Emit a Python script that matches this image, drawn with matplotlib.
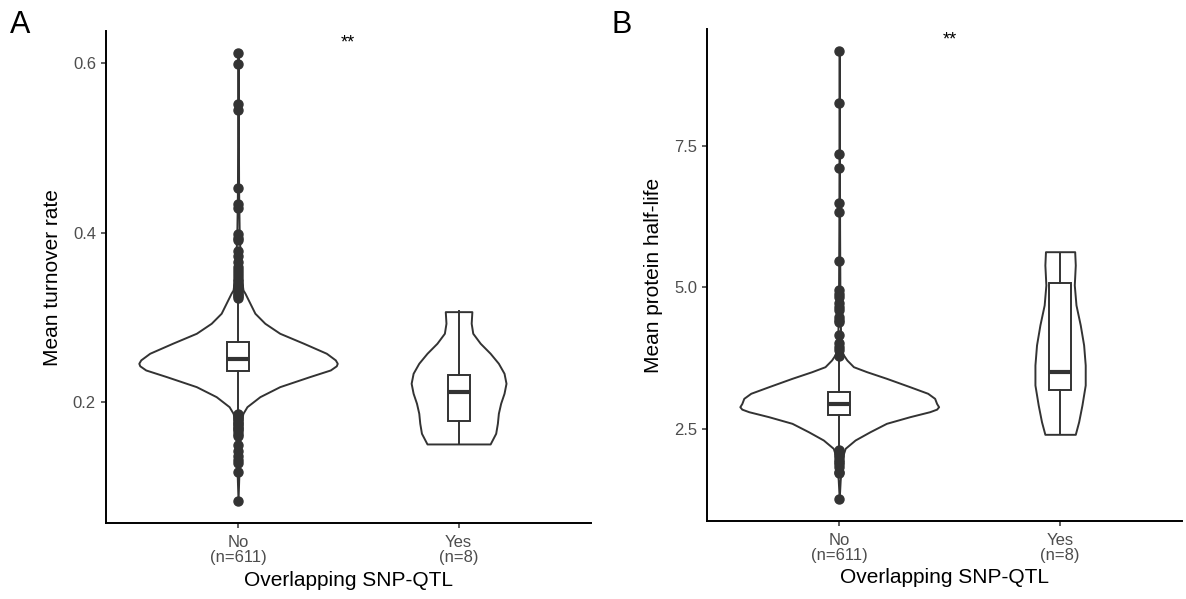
import matplotlib
matplotlib.use("Agg")
import matplotlib.pyplot as plt

plt.rcParams['font.family'] = ['Liberation Sans', 'DejaVu Sans']

groups = ["No", "Yes"]
group_n = [611, 8]
xlabel = "Overlapping SNP-QTL"

# ---- panel A: mean turnover rate ----
a_ylabel = "Mean turnover rate"
a_ticks = [0.2, 0.4, 0.6]
a_ylim = (0.0572, 0.638)
# violin outlines: value, relative half width (1 = widest)
a_no_vy = [0.084, 0.12, 0.16, 0.18, 0.187, 0.1948, 0.2066, 0.2184, 0.2302, 0.2381, 0.243, 0.246,
           0.25, 0.2578, 0.2696, 0.2814, 0.2932, 0.305, 0.3168, 0.3286, 0.3325, 0.35, 0.40, 0.45,
           0.55, 0.6125]
a_no_vw = [0.0, 0.01, 0.02, 0.035, 0.05, 0.09, 0.22, 0.42, 0.72, 0.93, 0.99, 1.0,
           0.98, 0.89, 0.66, 0.42, 0.27, 0.17, 0.12, 0.07, 0.05, 0.03, 0.012, 0.006,
           0.003, 0.0]
a_yes_vy = [0.1508, 0.1634, 0.1752, 0.187, 0.1988, 0.2106, 0.2224, 0.2342, 0.246, 0.2578,
            0.2696, 0.2814, 0.2932, 0.3069]
a_yes_vw = [0.318, 0.374, 0.391, 0.401, 0.424, 0.458, 0.478, 0.458, 0.401, 0.318,
            0.218, 0.143, 0.127, 0.134]
# box stats: whislo, q1, med, q3, whishi
a_no_box = [0.188, 0.2373, 0.2514, 0.2708, 0.321]
a_yes_box = [0.1504, 0.1779, 0.2125, 0.2322, 0.3077]
a_no_out = [0.6125, 0.599, 0.552, 0.545, 0.4525, 0.434, 0.429, 0.398, 0.394, 0.391, 0.378,
            0.372, 0.366, 0.36, 0.356, 0.352, 0.349, 0.346, 0.343, 0.34, 0.337, 0.335, 0.333,
            0.331, 0.329, 0.327, 0.325, 0.323,
            0.186, 0.184, 0.182, 0.18, 0.178, 0.176, 0.174, 0.172, 0.17, 0.168, 0.166, 0.163,
            0.16, 0.149, 0.142, 0.137, 0.132, 0.128, 0.118, 0.084]
a_sig_y = 0.624

# ---- panel B: mean protein half-life ----
b_ylabel = "Mean protein half-life"
b_ticks = [2.5, 5.0, 7.5]
b_ylim = (0.882, 9.552)
b_no_vy = [1.265, 1.6, 1.9, 2.05, 2.159, 2.306, 2.452, 2.6, 2.717, 2.805, 2.85, 2.893, 2.95,
           3.041, 3.13, 3.246, 3.394, 3.511, 3.599, 3.717, 3.806, 3.9, 4.5, 6.0, 9.174]
b_no_vw = [0.0, 0.01, 0.025, 0.04, 0.06, 0.16, 0.31, 0.475, 0.71, 0.91, 0.98, 1.0, 0.98,
           0.96, 0.89, 0.71, 0.475, 0.276, 0.143, 0.077, 0.043, 0.02, 0.008, 0.004, 0.0]
b_yes_vy = [2.406, 2.629, 2.923, 3.276, 3.629, 3.982, 4.335, 4.688, 5.041, 5.393, 5.628]
b_yes_vw = [0.153, 0.187, 0.22, 0.253, 0.253, 0.237, 0.203, 0.16, 0.143, 0.153, 0.147]
b_no_box = [2.15, 2.747, 2.941, 3.147, 3.75]
b_yes_box = [2.406, 3.188, 3.511, 5.081, 5.61]
b_no_out = [9.174, 8.246, 7.352, 7.105, 6.493, 6.323, 5.469, 4.952, 4.88, 4.834, 4.72, 4.66,
            4.6, 4.48, 4.42, 4.39, 4.16, 4.01, 3.95, 3.9, 3.78,
            2.13, 2.08, 2.04, 2.0, 1.96, 1.92, 1.88, 1.835, 1.747, 1.72, 1.265]
b_sig_y = 9.36

dark = "#333333"
W, H = 1186, 599
fig = plt.figure(figsize=(W / 100, H / 100), dpi=100)


def panel(rect, ylabel, ticks, ylim, violins, boxes, outliers, sig_y, xmax):
    ax = fig.add_axes(rect)
    pos = [1, 2]
    for p, (vy, vw) in zip(pos, violins):
        half = [w * 0.45 for w in vw]
        ax.fill_betweenx(vy, [p - h for h in half], [p + h for h in half],
                         facecolor="white", edgecolor=dark, lw=1.4, zorder=2)
    stats = []
    for b, fl in zip(boxes, [outliers, []]):
        stats.append(dict(whislo=b[0], q1=b[1], med=b[2], q3=b[3], whishi=b[4], fliers=fl))
    ax.bxp(stats, positions=pos, widths=0.1, showcaps=False, patch_artist=True,
           boxprops=dict(facecolor="white", edgecolor=dark, lw=1.4),
           whiskerprops=dict(color=dark, lw=1.4),
           medianprops=dict(color=dark, lw=3),
           flierprops=dict(marker="o", markerfacecolor=dark, markeredgecolor=dark,
                           markersize=6.5),
           zorder=3)
    ax.text(1.5, sig_y, "**", ha="center", va="center", fontsize=13, color="black")
    ax.set_xlim(0.4, xmax)
    ax.set_ylim(*ylim)
    ax.set_yticks(ticks)
    ax.set_yticklabels([f"{t:.1f}" for t in ticks])
    ax.set_xticks(pos)
    ax.set_xticklabels([f"{g}\n(n={n})" for g, n in zip(groups, group_n)], linespacing=1.0)
    ax.tick_params(axis="both", labelsize=12, labelcolor="#4D4D4D", color=dark,
                   length=3.5, width=1.1)
    ax.tick_params(axis="x", pad=5)
    ax.set_xlabel(xlabel, fontsize=15, labelpad=4)
    ax.set_ylabel(ylabel, fontsize=15, labelpad=8)
    for s in ["top", "right"]:
        ax.spines[s].set_visible(False)
    for s in ["left", "bottom"]:
        ax.spines[s].set_linewidth(1.4)
        ax.spines[s].set_color("black")
    return ax


panel([105.7 / W, 1 - 523.3 / H, 485.2 / W, 492.3 / H], a_ylabel, a_ticks, a_ylim,
      [(a_no_vy, a_no_vw), (a_yes_vy, a_yes_vw)], [a_no_box, a_yes_box], a_no_out, a_sig_y, 2.6)
panel([706.7 / W, 1 - 520.7 / H, (1182 - 706.7) / W, 491.4 / H], b_ylabel, b_ticks, b_ylim,
      [(b_no_vy, b_no_vw), (b_yes_vy, b_yes_vw)], [b_no_box, b_yes_box], b_no_out, b_sig_y,
      2 + (1182 - 1060) / 221)

fig.text(10 / W, 1 - 25 / H, "A", fontsize=22, va="center", ha="left")
fig.text(611 / W, 1 - 25 / H, "B", fontsize=22, va="center", ha="left")

fig.savefig("out.png", dpi=100)
